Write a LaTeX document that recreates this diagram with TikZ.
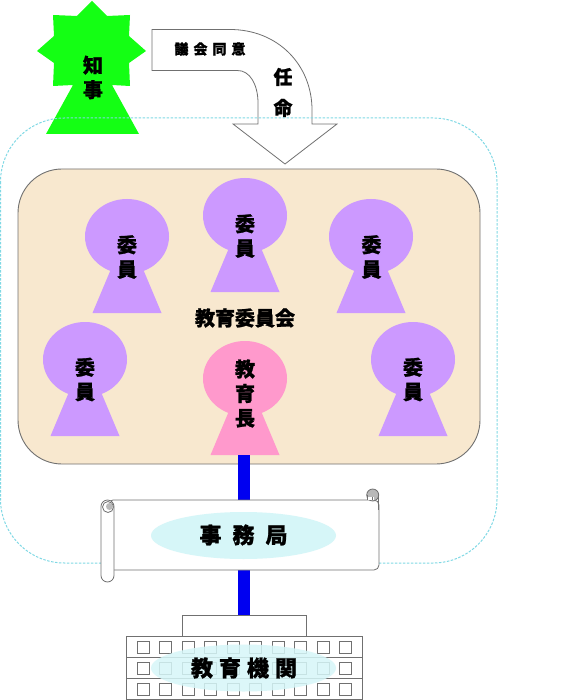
\documentclass[tikz,border=0pt]{standalone}
\usepackage{fontspec}
\newfontfamily\cjk{Noto Sans CJK JP Black}[FakeBold=1.2]
\definecolor{chiefgreen}{HTML}{14FF14}
\definecolor{memberpurple}{HTML}{CC99FF}
\definecolor{headpink}{HTML}{FF99CC}
\definecolor{boardbeige}{HTML}{F8E8CF}
\definecolor{paleblue}{HTML}{D6F6F8}
\definecolor{dashblue}{HTML}{7FD8E4}
\definecolor{linegray}{HTML}{707070}
\definecolor{barblue}{HTML}{0000F0}
\tikzset{
  x=1pt,y=-1pt,
  lbl/.style={font=\cjk\fontsize{20}{24.5}\selectfont,align=center,inner sep=0pt,text=black},
  outlined/.style={draw=linegray,line width=0.8pt,fill=white},
  bar/.style={draw=none,fill=barblue},
  win/.style={draw=linegray,line width=0.8pt,fill=white},
}
\newcommand{\keyhole}[4]{% x, top, colour, name
  \fill[#3] (#1-34.5,#2+114) -- (#1-16,#2+70) -- (#1+16,#2+70) -- (#1+34.5,#2+114) -- cycle;
  \fill[#3] (#1,#2+37.5) ellipse [x radius=42,y radius=37.5];
  \coordinate (#4) at (#1,#2+114);
}
\begin{document}
\begin{tikzpicture}
\useasboundingbox (0,0) rectangle (574,700);
% governor
\fill[chiefgreen] (92,1) -- (107,16) -- (130,15) -- (129,36) -- (146,51) -- (129,63) -- (130,86) -- (112,85) -- (139,134) -- (46,134) -- (73,85) -- (53,86) -- (54,63) -- (37,51) -- (54,36) -- (53,15) -- (77,16) -- cycle;
\node[lbl] (chief) at (93,77.5) {知\\事};
% arrow
\draw[outlined,line join=miter] (152,29.5) -- (230,29.5) .. controls (278,29.5) and (312,65) .. (312,110) -- (312,124) -- (337,124) -- (285,164) -- (233,124) -- (258,124) -- (258,103) .. controls (258,85) and (250,70) .. (237,70.5) -- (152,70.5) -- cycle;
\node[lbl,font=\cjk\fontsize{14}{14}\selectfont] (consent) at (210,49) {議\hspace{5pt}会\hspace{5pt}同\hspace{5pt}意};
\node[lbl,font=\cjk\fontsize{19}{31}\selectfont] (appoint) at (283,92.5) {任\\命};
% dashed outer frame
\draw[dashblue,line width=1pt,dash pattern=on 2.5pt off 1.5pt,rounded corners=64pt] (0.5,118) rectangle (497,563);
% board
\draw[draw=linegray,line width=0.9pt,fill=boardbeige,rounded corners=44pt] (18,169) rectangle (480,464);
% members
\keyhole{127}{199}{memberpurple}{m1}
\keyhole{245}{178}{memberpurple}{m2}
\keyhole{371}{199}{memberpurple}{m3}
\keyhole{85}{322}{memberpurple}{m4}
\keyhole{413}{322}{memberpurple}{m5}
\keyhole{245}{341}{headpink}{head}
\node[lbl] (t1) at (127,257) {委\\員};
\node[lbl] (t2) at (245,236) {委\\員};
\node[lbl] (t3) at (371.5,257) {委\\員};
\node[lbl] (t4) at (85,379.5) {委\\員};
\node[lbl] (t5) at (413,379.5) {委\\員};
\node[lbl] (t6) at (245,393.5) {教\\育\\長};
\node[lbl] (board) at (245,318) {教育委員会};
% links
\coordinate (headbase) at (243.5,455);
\coordinate (scrolltop) at (243.5,500);
\coordinate (scrollbottom) at (243.5,570);
\coordinate (schooltop) at (243.5,615);
\draw[bar] ([xshift=-6pt]headbase) rectangle ([xshift=6pt]scrolltop);
\draw[bar] ([xshift=-6pt]scrollbottom) rectangle ([xshift=6pt]schooltop);
% scroll: body
\draw[outlined,rounded corners=5pt] (108,500) -- (379,500) -- (379,570) -- (108,570) -- cycle;
% scroll: right curl
\draw[draw=linegray,line width=0.8pt,fill=gray!55] (372.7,495) circle (6);
\fill[white] (367.5,497) rectangle (374,499.6);
\draw[linegray,line width=0.8pt] (367,495) -- (367,500);
\draw[linegray,line width=0.8pt] (372.5,497) -- (372.5,500);
\draw[linegray,line width=0.8pt] (378.7,495) -- (378.7,510);
% scroll: left roll
\draw[outlined,rounded corners=6.5pt] (101,500) rectangle (114,582);
\draw[draw=linegray,line width=0.8pt,fill=white] (108,507) circle (5.5);
\fill[gray!55] (109.5,506.5) circle (3.5);
% secretariat
\fill[paleblue] (243.5,535.5) ellipse [x radius=92.5,y radius=23.5];
\node[lbl,font=\cjk\fontsize{22}{22}\selectfont] (office) at (243.5,535) {事\hspace{11pt}務\hspace{11pt}局};
% school
\draw[outlined] (182,636) -- (182,615) -- (306,615) -- (306,636);
\draw[outlined] (126,636) rectangle (362,699);
\draw[outlined,fill=none] (126,657) -- (362,657);
\draw[outlined,fill=none] (126,678) -- (362,678);
\foreach \y in {647,668,689}
  \foreach \i in {0,...,9}
    \draw[win] (143+22.5*\i-6,\y-6) rectangle +(12,12);
\fill[paleblue,opacity=.85] (243.5,668) ellipse [x radius=92.5,y radius=23.5];
\node[lbl,font=\cjk\fontsize{22}{22}\selectfont] (school) at (244,668) {教\hspace{6pt}育\hspace{6pt}機\hspace{6pt}関};
\end{tikzpicture}
\end{document}
